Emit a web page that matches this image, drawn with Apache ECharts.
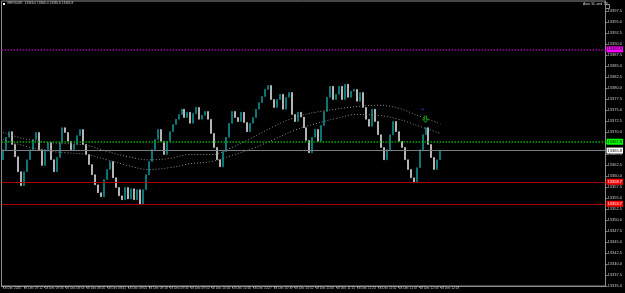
<!DOCTYPE html>
<html>
<head>
<meta charset="utf-8">
<style>
  html, body { margin: 0; padding: 0; background: #000; }
  #chart { width: 625px; height: 293px; }
</style>
<script src="https://cdn.jsdelivr.net/npm/echarts@6/dist/echarts.min.js"></script>
</head>
<body>
<div id="chart"></div>
<script>
// brick closes, one per bar (open = previous close)
var firstOpen = 13363.7;
var closes = [
  13366.0, 13368.8, 13370.1, 13367.2, 13364.4, 13361.0, 13357.8, 13361.0, 13363.7, 13366.0,
  13368.3, 13369.9, 13366.0, 13362.4, 13366.0, 13367.6, 13363.7, 13361.0, 13364.2, 13367.6,
  13371.0, 13369.9, 13367.9, 13366.0, 13367.2, 13369.2, 13370.6, 13367.2, 13364.9, 13362.6,
  13360.3, 13358.0, 13356.2, 13355.3, 13359.2, 13361.5, 13363.3, 13359.6, 13357.4, 13355.5,
  13354.6, 13357.4, 13354.8, 13357.1, 13354.6, 13356.9, 13353.5, 13356.9, 13360.3, 13363.3,
  13366.0, 13368.3, 13370.6, 13367.9, 13364.9, 13367.9, 13370.1, 13371.7, 13372.9, 13374.0,
  13375.2, 13373.3, 13374.5, 13372.0, 13374.2, 13375.6, 13372.9, 13373.8, 13374.7, 13372.9,
  13369.7, 13366.5, 13363.7, 13362.1, 13365.6, 13368.8, 13372.0, 13374.7, 13373.3, 13372.4,
  13374.5, 13372.2, 13370.1, 13372.0, 13373.3, 13375.2, 13376.7, 13378.1, 13379.7, 13380.6,
  13377.4, 13375.6, 13377.4, 13378.6, 13375.2, 13377.9, 13379.0, 13374.0, 13372.4, 13374.5,
  13373.4, 13371.0, 13368.1, 13365.3, 13368.8, 13370.6, 13367.9, 13371.5, 13374.7, 13377.9,
  13380.4, 13377.4, 13378.6, 13380.4, 13377.4, 13380.9, 13377.9, 13379.3, 13379.7, 13377.0,
  13379.0, 13375.6, 13372.9, 13371.3, 13375.2, 13372.4, 13369.4, 13366.5, 13363.7, 13366.0,
  13369.4, 13372.4, 13370.1, 13367.9, 13366.5, 13363.7, 13361.5, 13359.6, 13358.5, 13361.9,
  13366.0, 13369.4, 13371.0, 13367.2, 13364.2, 13361.5, 13363.7, 13365.8
];

// moving averages, [bar index, price]
var fastMa = [
  [0, 13369.9], [7, 13368.5], [14, 13367.7], [21, 13367.4], [28, 13367.0], [35, 13365.6],
  [42, 13364.4], [49, 13363.7], [56, 13364.0], [63, 13364.9], [70, 13364.9], [77, 13366.5],
  [84, 13368.8], [91, 13371.3], [98, 13373.3], [105, 13374.5], [112, 13375.2], [119, 13375.8],
  [126, 13376.1], [133, 13375.4], [140, 13373.6], [147, 13371.9]
];
var slowMa = [
  [0, 13368.3], [7, 13366.9], [14, 13365.8], [21, 13365.3], [28, 13364.9], [35, 13363.7],
  [42, 13362.4], [49, 13361.5], [56, 13361.9], [63, 13362.8], [70, 13363.3], [77, 13364.7],
  [84, 13366.3], [91, 13368.3], [98, 13370.4], [105, 13371.9], [112, 13373.1], [119, 13374.0],
  [126, 13373.8], [133, 13372.9], [140, 13371.3], [147, 13369.7]
];

// horizontal levels: magenta, green, current, red, red
var levelValues = [13388.8, 13367.8, 13365.8, 13358.7, 13353.7];

var timeLabels = [
  '18 Dec 2020', '18 Dec 07:12', '18 Dec 07:36', '18 Dec 08:03', '18 Dec 08:20', '18 Dec 08:41',
  '18 Dec 09:05', '18 Dec 09:18', '18 Dec 09:33', '18 Dec 09:50', '18 Dec 10:04', '18 Dec 10:16',
  '18 Dec 10:27', '18 Dec 10:39', '18 Dec 10:52', '18 Dec 11:06', '18 Dec 11:15', '18 Dec 11:24',
  '18 Dec 11:32', '18 Dec 11:47', '18 Dec 12:03', '18 Dec 12:18'
];

var signalArrow = [[142, 13372.9]];
var signalDash = [[141, 13375.2]];

var slotCount = 203;
var slots = [];
for (var s = 0; s < slotCount; s++) slots.push(String(s));

var candles = closes.map(function (c, i) {
  var o = i ? closes[i - 1] : firstOpen;
  return [o, c, Math.min(o, c), Math.max(o, c)];
});

var levelStyles = [
  { color: '#a000a0', type: [1.5, 1.5], width: 1.5, bg: '#ff00ff', text: '#000' },
  { color: '#00a800', type: [1.5, 1.5], width: 1.5, bg: '#00ff00', text: '#000' },
  { color: '#7c7c84', type: 'solid', width: 1, bg: '#ffffff', text: '#000' },
  { color: '#a80000', type: 'solid', width: 1, bg: '#ff0000', text: '#fff' },
  { color: '#a80000', type: 'solid', width: 1, bg: '#ff0000', text: '#fff' }
];

function isTimeTick(idx) {
  return idx % 7 === 0 && timeLabels[idx / 7] !== undefined;
}

var chart = echarts.init(document.getElementById('chart'));

// one markLine series per level so each keeps its own colour
var levelSeries = levelValues.map(function (v, k) {
  var st = levelStyles[k];
  return {
    type: 'line', data: [], silent: true,
    markLine: {
      silent: true,
      symbol: ['none', 'none'],
      lineStyle: { color: st.color, type: st.type, width: st.width, opacity: 1 },
      label: {
        show: true, position: 'end', distance: 1,
        formatter: v.toFixed(1),
        backgroundColor: st.bg, color: st.text,
        fontSize: 4, fontFamily: 'Liberation Sans', padding: [1, 1]
      },
      data: [{ yAxis: v }]
    }
  };
});

var option = {
  backgroundColor: '#000',
  animation: false,
  grid: { left: 1, right: 15, top: 1, bottom: 7, show: true, borderColor: '#8c8c8c', borderWidth: 1 },
  xAxis: {
    type: 'category',
    data: slots,
    boundaryGap: true,
    axisLine: { lineStyle: { color: '#8c8c8c' } },
    axisTick: {
      show: true, alignWithLabel: true, length: 2, lineStyle: { color: '#8c8c8c' },
      interval: function (idx) { return isTimeTick(idx); }
    },
    axisLabel: {
      margin: 1, align: 'left', color: '#c8c8c8', fontSize: 3.2, fontFamily: 'Liberation Sans',
      interval: function (idx) { return isTimeTick(idx); },
      formatter: function (v, idx) { return timeLabels[idx / 7] || ''; }
    },
    splitLine: { show: false }
  },
  yAxis: {
    type: 'value',
    position: 'right',
    min: 13335,
    max: 13399.8,
    interval: 2.5,
    axisLine: { show: true, lineStyle: { color: '#8c8c8c' } },
    axisTick: { show: true, length: 2, lineStyle: { color: '#8c8c8c' } },
    axisLabel: {
      showMaxLabel: false, margin: 2, color: '#c8c8c8', fontSize: 4, fontFamily: 'Liberation Sans',
      formatter: function (v) { return v.toFixed(1); }
    },
    splitLine: { show: false }
  },
  graphic: [
    { type: 'rect', left: 3, top: 3, shape: { width: 2, height: 2 }, style: { fill: '#fff' } },
    { type: 'text', left: 7, top: 2, style: { text: 'GER30,M1  13366.0 13366.0 13365.8 13365.8', fill: '#d0d0d0', font: '3.2px Liberation Sans' } },
    { type: 'text', left: 583, top: 2, style: { text: 'Auto SL and TP', fill: '#d0d0d0', font: '3.5px Liberation Sans' } },
    { type: 'rect', left: 603, top: 2, shape: { width: 4, height: 4 }, style: { fill: 'none', stroke: '#d0d0d0', lineWidth: 0.7 } }
  ],
  series: [
    {
      type: 'candlestick',
      data: candles,
      barWidth: 1.5,
      itemStyle: {
        color: '#109c9c', color0: '#ffffff',
        borderColor: '#109c9c', borderColor0: '#e8e8e8', borderWidth: 0.5
      }
    },
    {
      type: 'line', data: fastMa, smooth: 0.4, showSymbol: false, silent: true,
      lineStyle: { color: '#8c8c8c', width: 1, type: [1, 2] }
    },
    {
      type: 'line', data: slowMa, smooth: 0.4, showSymbol: false, silent: true,
      lineStyle: { color: '#8c8c8c', width: 1, type: [1, 2] }
    },
    {
      type: 'scatter', data: signalArrow, silent: true,
      symbol: 'path://M3,0 L7,0 L7,5 L10,5 L5,10 L0,5 L3,5 Z',
      symbolSize: [5, 6],
      itemStyle: { color: 'rgba(0,0,0,0)', borderColor: '#00c000', borderWidth: 1 }
    },
    {
      type: 'scatter', data: signalDash, silent: true,
      symbol: 'rect', symbolSize: [3, 1],
      itemStyle: { color: '#2040ff' }
    }
  ].concat(levelSeries)
};

chart.setOption(option);
</script>
</body>
</html>
